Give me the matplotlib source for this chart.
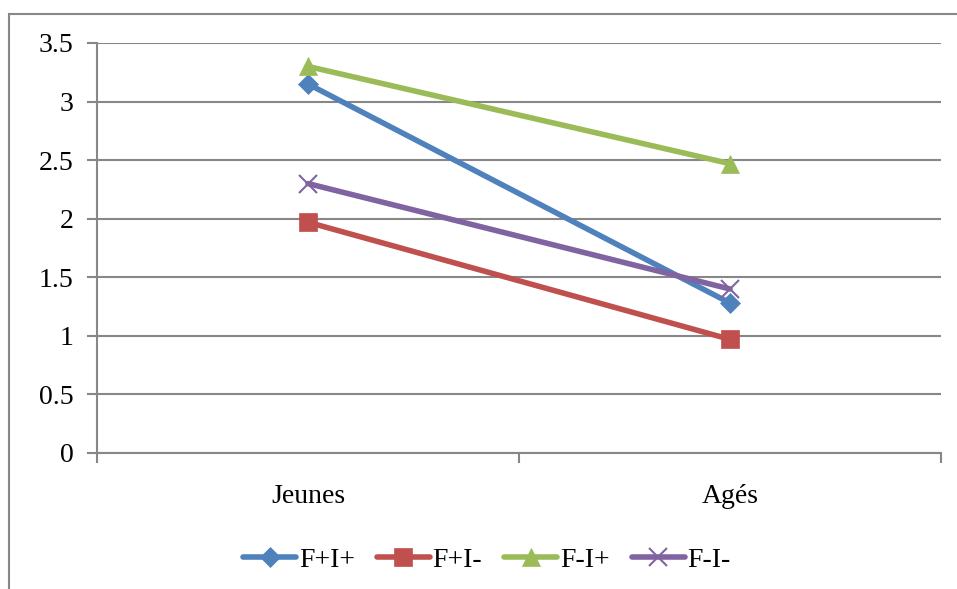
import matplotlib.pyplot as plt
from matplotlib.patches import Rectangle

# data
categories = ['Jeunes', 'Agés']
series_names = ['F+I+', 'F+I-', 'F-I+', 'F-I-']
f_plus_i_plus = [3.15, 1.28]
f_plus_i_minus = [1.97, 0.97]
f_minus_i_plus = [3.30, 2.47]
f_minus_i_minus = [2.30, 1.40]

colors = ['#4F81BD', '#C0504D', '#9BBB59', '#8064A2']
markers = ['D', 's', '^', 'x']
msizes = [10, 13, 13, 13]

plt.rcParams['font.family'] = ['Liberation Serif', 'DejaVu Serif']

fig = plt.figure(figsize=(9.57, 5.89), dpi=100)
W, H = 957, 589
ax = fig.add_axes([97 / W, 1 - 453 / H, (941 - 97) / W, (453 - 43) / H])

# outer chart border (Excel style)
fig.patches.append(Rectangle((9 / W, -0.1), 1.2, 1 - 14 / H + 0.1,
                             transform=fig.transFigure, fill=False,
                             edgecolor='#878787', linewidth=1.5))

x = [0.5, 1.5]
all_series = [f_plus_i_plus, f_plus_i_minus, f_minus_i_plus, f_minus_i_minus]
for vals, name, c, m, ms in zip(all_series, series_names, colors, markers, msizes):
    ax.plot(x, vals, color=c, linewidth=4, marker=m, markersize=ms,
            markeredgewidth=1.5 if m == 'x' else 0.5, markeredgecolor=c,
            label=name, solid_capstyle='round', zorder=3)

ax.set_xlim(0, 2)
ax.set_ylim(0, 3.5)
ax.set_yticks([0, 0.5, 1, 1.5, 2, 2.5, 3, 3.5])
ax.set_yticklabels(['0', '0.5', '1', '1.5', '2', '2.5', '3', '3.5'])
ax.set_xticks([0, 1, 2])
ax.set_xticklabels([])
ax.set_xticks(x, minor=True)
ax.set_xticklabels(categories, minor=True)
ax.tick_params(axis='x', which='minor', length=0, pad=22, labelsize=20)
ax.tick_params(axis='x', which='major', length=7, width=1.5, color='#878787', direction='out')
ax.tick_params(axis='y', length=7, width=1.5, color='#878787', labelsize=20, pad=10)

ax.grid(axis='y', color='#878787', linewidth=1.5)
ax.set_axisbelow(True)
for s in ['top', 'right']:
    ax.spines[s].set_visible(False)
for s in ['left', 'bottom']:
    ax.spines[s].set_color('#878787')
    ax.spines[s].set_linewidth(1.5)

ax.legend(loc='center', bbox_to_anchor=(487 / W, 1 - 560 / H),
          bbox_transform=fig.transFigure, ncol=4, frameon=False,
          fontsize=20, handlelength=1.9, handletextpad=0.1, columnspacing=0.8)

fig.savefig('out.png', dpi=100)
